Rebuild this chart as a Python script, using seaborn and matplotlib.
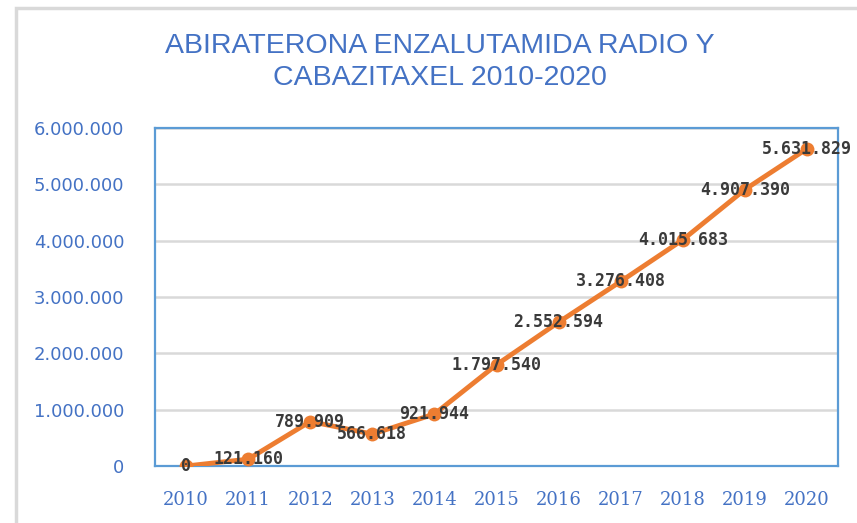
import matplotlib
matplotlib.use('Agg')
import matplotlib.pyplot as plt
import matplotlib.ticker as ticker
from matplotlib.patches import Rectangle
import seaborn as sns
import pandas as pd

sns.set_theme(style='white')

years = ['2010', '2011', '2012', '2013', '2014', '2015', '2016', '2017', '2018', '2019', '2020']
values = [0, 121160, 789909, 566618, 921944, 1797540, 2552594, 3276408, 4015683, 4907390, 5631829]
value_labels = ['0', '121.160', '789.909', '566.618', '921.944', '1.797.540', '2.552.594',
                '3.276.408', '4.015.683', '4.907.390', '5.631.829']

BLUE_TXT = '#4472C4'
BLUE_AX = '#5B9BD5'
ORANGE = '#ED7D31'

df = pd.DataFrame({'pos': range(len(years)), 'value': values})

fig = plt.figure(figsize=(8.57, 5.23), dpi=100)
# outer chart border (only left/top visible)
fig.patches.append(Rectangle((16 / 857, -0.1), 1.2, (523 - 8) / 523 + 0.1,
                             transform=fig.transFigure, fill=False,
                             edgecolor='#D9D9D9', linewidth=2.5))

ax = fig.add_axes([155 / 857, 57 / 523, 683 / 857, 338 / 523])

sns.lineplot(data=df, x='pos', y='value', ax=ax, color=ORANGE, linewidth=3.5,
             marker='o', markersize=10, markeredgewidth=0, zorder=3)

for i, (v, lab) in enumerate(zip(values, value_labels)):
    ax.text(i, v, lab, ha='center', va='center', color='#3A3A3A',
            fontsize=12, fontweight='bold', family='DejaVu Sans Mono', zorder=10)

ax.set_xlim(-0.5, len(years) - 0.5)
ax.set_ylim(0, 6000000)
ax.set_xticks(range(len(years)))
ax.set_xticklabels(years)
ax.yaxis.set_major_locator(ticker.MultipleLocator(1000000))
ax.yaxis.set_major_formatter(ticker.FuncFormatter(lambda v, p: f'{int(v):,}'.replace(',', '.')))
ax.set_xlabel('')
ax.set_ylabel('')

ax.grid(axis='y', color='#D9D9D9', linewidth=1.8)
ax.grid(axis='x', visible=False)
ax.set_axisbelow(True)
for s in ax.spines.values():
    s.set_color(BLUE_AX)
    s.set_linewidth(1.6)

ax.tick_params(axis='y', length=0, pad=22, labelsize=13, labelcolor=BLUE_TXT)
ax.tick_params(axis='x', length=0, pad=18, labelsize=13, labelcolor=BLUE_TXT)
for t in ax.get_xticklabels():
    t.set_family('DejaVu Serif')

fig.text(440 / 857, 1 - 62 / 523, 'ABIRATERONA ENZALUTAMIDA RADIO Y\nCABAZITAXEL 2010-2020',
         ha='center', va='center', color=BLUE_TXT, fontsize=20.5, linespacing=1.3,
         family=['Liberation Sans Narrow', 'Liberation Sans', 'DejaVu Sans'])

fig.savefig('out.png', dpi=100)
